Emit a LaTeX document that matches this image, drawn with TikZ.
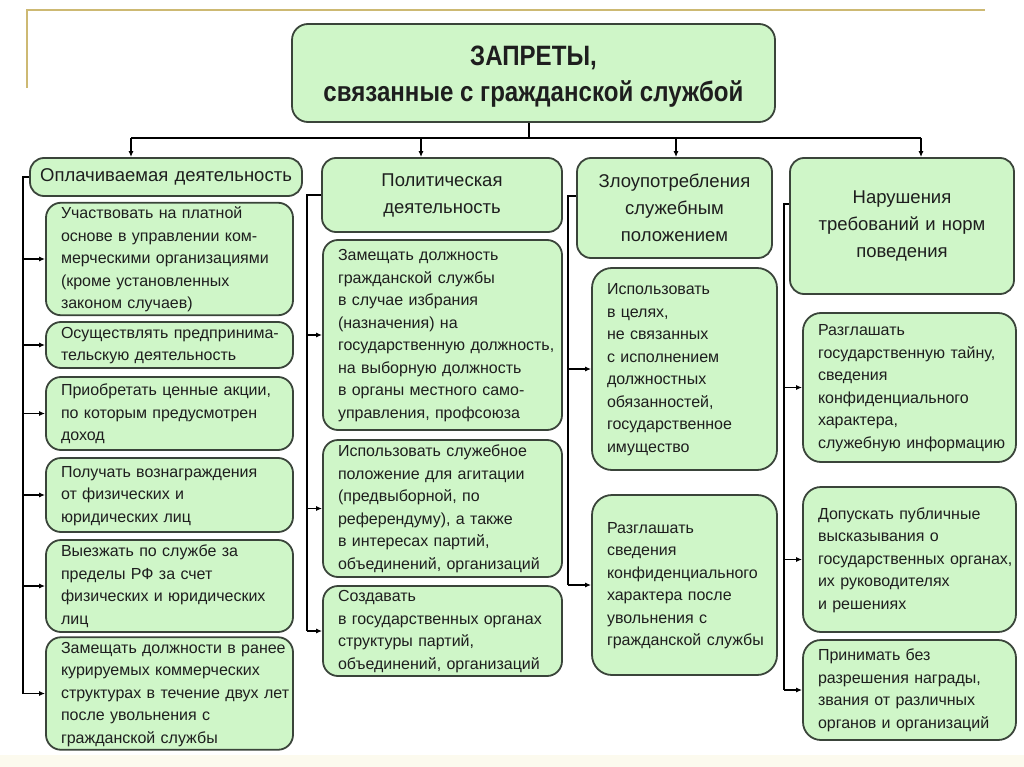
\documentclass[tikz,border=0pt]{standalone}
\usepackage{fontspec}
\setmainfont{Liberation Sans}
\newfontfamily\titlefont[FakeStretch=0.86]{Liberation Sans}
\usetikzlibrary{arrows.meta,calc}
\definecolor{boxfill}{RGB}{207,246,200}
\definecolor{boxline}{RGB}{58,68,58}
\definecolor{txt}{RGB}{30,30,30}
\definecolor{gold}{RGB}{205,185,115}
\definecolor{cream}{RGB}{252,250,238}
\newcommand\lns[1]{\begin{tabular}{@{}l@{}}#1\end{tabular}}
\tikzset{
  x=1pt, y=-1pt,
  basebox/.style={draw=boxline, fill=boxfill, line width=1.8pt, text=txt, inner ysep=0pt},
  titlebox/.style={basebox, rounded corners=16pt, align=center, inner xsep=0pt,
    font=\titlefont\bfseries\fontsize{28}{36}\selectfont},
  catbox/.style={basebox, rounded corners=14pt, align=center, inner xsep=6pt,
    font=\fontsize{18.5}{27}\selectfont},
  itembox/.style={basebox, rounded corners=15pt, align=left, inner xsep=15pt,
    font=\fontsize{16}{22.5}\selectfont},
  conn/.style={draw=black, line width=1.3pt},
  arr/.style={conn, -{Latex[length=6pt,width=5pt]}},
}
\begin{document}
\begin{tikzpicture}
\useasboundingbox (0,0) rectangle (1024,767);
\fill[cream] (0,755) rectangle (1024,767);
\draw[gold, line width=1.5pt] (27,88) -- (27,10) -- (985,10);

% title
\node[titlebox, minimum width=483pt, minimum height=98pt] (title) at (533.5,73)
  {\raisebox{-10pt}[0pt][0pt]{\lns{\hfil ЗАПРЕТЫ,\hfil\\связанные с гражданской службой}}};

% categories
\node[catbox, minimum width=272pt, minimum height=38pt, text width=260pt] (c1) at (166,177)
  {Оплачиваемая деятельность};
\node[catbox, minimum width=240pt, minimum height=74pt, text width=228pt] (c2) at (442,195)
  {Политическая\\деятельность};
\node[catbox, minimum width=195pt, minimum height=100pt, text width=183pt] (c3) at (674.5,208)
  {Злоупотребления\\служебным\\положением};
\node[catbox, minimum width=224pt, minimum height=136pt, text width=212pt] (c4) at (902,226)
  {Нарушения\\требований и норм\\поведения};

% column 1
\node[itembox, minimum width=247pt, minimum height=112pt, text width=217pt] (i11) at (169.5,259)
  {\lns{Участвовать на платной\\основе в управлении ком-\\мерческими организациями\\(кроме установленных\\законом случаев)}};
\node[itembox, minimum width=247pt, minimum height=46pt, text width=217pt] (i12) at (169.5,345)
  {\lns{Осуществлять предпринима-\\тельскую деятельность}};
\node[itembox, minimum width=247pt, minimum height=73pt, text width=217pt] (i13) at (169.5,413.5)
  {\lns{Приобретать ценные акции,\\по которым предусмотрен\\доход}};
\node[itembox, minimum width=247pt, minimum height=74pt, text width=217pt] (i14) at (169.5,495)
  {\lns{Получать вознаграждения\\от физических и\\юридических лиц}};
\node[itembox, minimum width=247pt, minimum height=92pt, text width=217pt] (i15) at (169.5,586)
  {\lns{Выезжать по службе за\\пределы РФ за счет\\физических и юридических\\лиц}};
\node[itembox, minimum width=247pt, minimum height=107pt, text width=217pt] (i16) at (169.5,693.5)
  {\lns{Замещать должности в ранее\\курируемых коммерческих\\структурах в течение двух лет\\после увольнения с\\гражданской службы}};

% column 2
\node[itembox, minimum width=239pt, minimum height=190pt, text width=209pt] (i21) at (442.5,335)
  {\lns{Замещать должность\\гражданской службы\\в случае избрания\\(назначения) на\\государственную должность,\\на выборную должность\\в органы местного само-\\управления, профсоюза}};
\node[itembox, minimum width=239pt, minimum height=137pt, text width=209pt] (i22) at (442.5,508.5)
  {\lns{Использовать служебное\\положение для агитации\\(предвыборной, по\\референдуму), а также\\в интересах партий,\\объединений, организаций}};
\node[itembox, minimum width=239pt, minimum height=88pt, text width=209pt] (i23) at (442.5,631)
  {\lns{Создавать\\в государственных органах\\структуры партий,\\объединений, организаций}};

% column 3
\node[itembox, rounded corners=20pt, minimum width=185pt, minimum height=202pt, text width=155pt] (i31) at (684.5,369)
  {\lns{Использовать\\в целях,\\не связанных\\с исполнением\\должностных\\обязанностей,\\государственное\\имущество}};
\node[itembox, rounded corners=20pt, minimum width=185pt, minimum height=180pt, text width=155pt] (i32) at (684.5,585)
  {\lns{Разглашать\\сведения\\конфиденциального\\характера после\\увольнения с\\гражданской службы}};

% column 4
\node[itembox, rounded corners=18pt, minimum width=213pt, minimum height=149pt, text width=183pt] (i41) at (909.5,387.5)
  {\lns{Разглашать\\государственную тайну,\\сведения\\конфиденциального\\характера,\\служебную информацию}};
\node[itembox, rounded corners=18pt, minimum width=213pt, minimum height=145pt, text width=183pt] (i42) at (909.5,559.5)
  {\lns{Допускать публичные\\высказывания о\\государственных органах,\\их руководителях\\и решениях}};
\node[itembox, rounded corners=18pt, minimum width=213pt, minimum height=100pt, text width=183pt] (i43) at (909.5,690)
  {\lns{Принимать без\\разрешения награды,\\звания от различных\\органов и организаций}};

% top bus
\coordinate (bus) at (529,138);
\coordinate (t1) at (131,138);
\coordinate (t2) at (421,138);
\coordinate (t3) at (676,138);
\coordinate (t4) at (921,138);
\draw[conn] (title.south -| bus) -- (bus);
\draw[conn] (t1) -- (t4);
\draw[arr] (t1) -- (t1 |- c1.north);
\draw[arr] (t2) -- (t2 |- c2.north);
\draw[arr] (t3) -- (t3 |- c3.north);
\draw[arr] (t4) -- (t4 |- c4.north);

% column connectors
\coordinate (v1) at (23,0);
\coordinate (v2) at (307,0);
\coordinate (v3) at (568,0);
\coordinate (v4) at (784,0);
\coordinate (s3) at ($(c3.north west)+(0,39)$);
\coordinate (s4) at ($(c4.north west)+(0,47)$);

\draw[conn] (c1.west) -- (c1.west -| v1) -- (v1 |- i16.west);
\foreach \n in {i11,i12,i13,i14,i15,i16}
  \draw[arr] (v1 |- \n.west) -- (\n.west);

\draw[conn] (c2.west) -- (c2.west -| v2) -- (v2 |- i23.west);
\foreach \n in {i21,i22,i23}
  \draw[arr] (v2 |- \n.west) -- (\n.west);

\draw[conn] (s3) -- (s3 -| v3) -- (v3 |- i32.west);
\foreach \n in {i31,i32}
  \draw[arr] (v3 |- \n.west) -- (\n.west);

\draw[conn] (s4) -- (s4 -| v4) -- (v4 |- i43.west);
\foreach \n in {i41,i42,i43}
  \draw[arr] (v4 |- \n.west) -- (\n.west);
\end{tikzpicture}
\end{document}
